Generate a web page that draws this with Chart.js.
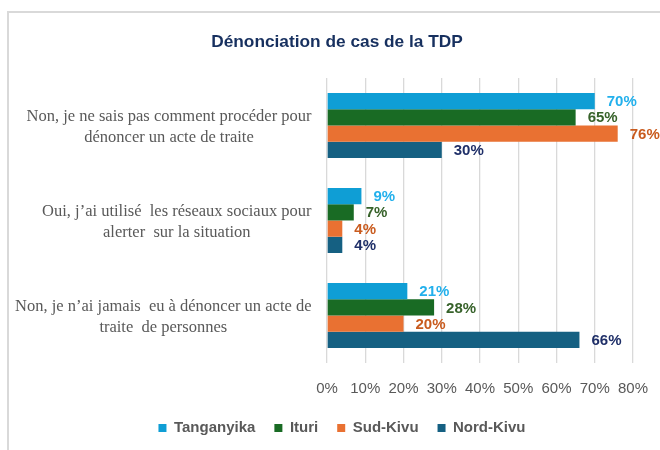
<!DOCTYPE html>
<html><head><meta charset="utf-8">
<script src="https://cdn.jsdelivr.net/npm/chart.js@4/dist/chart.umd.min.js"></script>
<style>html,body{margin:0;padding:0;background:#fff;overflow:hidden}
#wrap{position:relative;width:660px;height:450px}</style>
</head><body><div id="wrap"><canvas id="c" width="660" height="450"></canvas></div>
<script>
const categories = [
  ["Non, je ne sais pas comment procéder pour", "dénoncer un acte de traite"],
  ["Oui, j’ai utilisé  les réseaux sociaux pour", "alerter  sur la situation"],
  ["Non, je n’ai jamais  eu à dénoncer un acte de", "traite  de personnes"]
];
const seriesNames = ["Tanganyika", "Ituri", "Sud-Kivu", "Nord-Kivu"];
const tanganyika = [70, 9, 21];
const ituri = [65, 7, 28];
const sudKivu = [76, 4, 20];
const nordKivu = [30, 4, 66];
const xTicks = [0, 10, 20, 30, 40, 50, 60, 70, 80];

const barColors = ["#0F9ED5", "#196B24", "#E97132", "#156082"];
const labelColors = ["#22B0EC", "#37622A", "#C95B1E", "#1F2F68"];
const grey = "#595959";
const sans = '"Liberation Sans", Arial, sans-serif';

const frame = {
  id: 'frame',
  beforeDraw(chart) {
    const ctx = chart.ctx;
    ctx.save();
    ctx.fillStyle = '#fff';
    ctx.fillRect(0, 0, chart.width, chart.height);
    ctx.strokeStyle = '#D9D9D9';
    ctx.lineWidth = 2;
    ctx.beginPath();
    ctx.moveTo(8, chart.height);
    ctx.lineTo(8, 12);
    ctx.lineTo(chart.width, 12);
    ctx.stroke();
    ctx.restore();
  }
};

const legendShift = {
  id: 'legendShift',
  afterLayout(chart) {
    if (chart.legend) { chart.legend.left += 5; chart.legend.right += 5; }
  }
};

const valueLabels = {
  id: 'valueLabels',
  afterDatasetsDraw(chart) {
    const ctx = chart.ctx;
    ctx.save();
    ctx.font = 'bold 15px ' + sans;
    ctx.textBaseline = 'middle';
    ctx.textAlign = 'left';
    chart.data.datasets.forEach((ds, i) => {
      const meta = chart.getDatasetMeta(i);
      meta.data.forEach((bar, j) => {
        ctx.fillStyle = labelColors[i];
        ctx.fillText(ds.data[j] + '%', bar.x + 12, bar.y + 1);
      });
    });
    ctx.restore();
  }
};

const catLabels = {
  id: 'catLabels',
  afterDraw(chart) {
    const ctx = chart.ctx;
    const ys = chart.scales.y;
    ctx.save();
    ctx.font = '16.5px "Liberation Serif", "Times New Roman", serif';
    ctx.fillStyle = grey;
    ctx.textAlign = 'center';
    ctx.textBaseline = 'middle';
    const right = chart.chartArea.left - 15.5;
    const lh = 21;
    chart.data.labels.forEach((lines, i) => {
      const cy = ys.getPixelForValue(i);
      const w = Math.max(...lines.map(l => ctx.measureText(l).width));
      const cx = right - w / 2;
      lines.forEach((l, k) => {
        ctx.fillText(l, cx, cy + 2 + (k - (lines.length - 1) / 2) * lh);
      });
    });
    ctx.restore();
  }
};

const seriesData = [tanganyika, ituri, sudKivu, nordKivu];

new Chart(document.getElementById('c'), {
  type: 'bar',
  data: {
    labels: categories,
    datasets: seriesNames.map((name, i) => ({
      label: name,
      data: seriesData[i],
      backgroundColor: barColors[i],
      borderWidth: 0,
      categoryPercentage: 0.684,
      barPercentage: 1.0
    }))
  },
  options: {
    responsive: false,
    animation: false,
    devicePixelRatio: 1,
    indexAxis: 'y',
    layout: { padding: { left: 41, right: 27, top: 0, bottom: 4.5 } },
    plugins: {
      title: {
        display: true,
        text: 'Dénonciation de cas de la TDP',
        color: '#17305F',
        font: { family: sans, size: 17.3, weight: 'bold', lineHeight: 1.2 },
        padding: { top: 31.6, bottom: 25.6 }
      },
      legend: {
        position: 'bottom',
        labels: {
          boxWidth: 8, boxHeight: 8, padding: 19,
          color: grey,
          font: { family: sans, size: 15, weight: 'bold' }
        }
      },
      tooltip: { enabled: false }
    },
    scales: {
      x: {
        min: 0, max: 80,
        afterBuildTicks: s => { s.ticks = xTicks.map(v => ({ value: v })); },
        ticks: {
          padding: 17, color: grey,
          font: { family: sans, size: 15 },
          callback: v => v + '%'
        },
        grid: { color: '#D9D9D9', lineWidth: 1.3, drawTicks: false },
        border: { display: false },
        afterFit: s => { s.height = 38.5; s.paddingLeft = 0; s.paddingRight = 0; }
      },
      y: {
        ticks: { display: false },
        grid: { display: false },
        border: { display: false },
        afterFit: s => { s.width = 286; }
      }
    }
  },
  plugins: [frame, legendShift, valueLabels, catLabels]
});
</script>
</body></html>
